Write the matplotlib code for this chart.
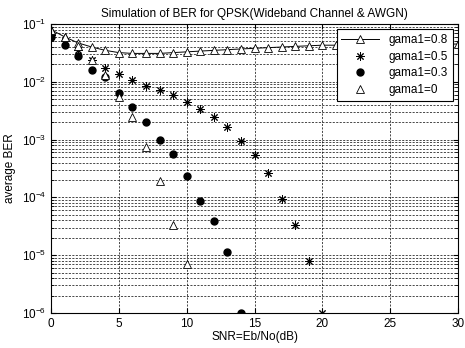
import numpy as np
import matplotlib.pyplot as plt
from matplotlib.ticker import LogLocator, NullFormatter

plt.rcParams['font.family'] = ['Liberation Sans', 'DejaVu Sans']

# SNR values (dB)
snr_08 = list(range(0, 31))
snr_05 = list(range(0, 21))
snr_03 = list(range(0, 15))
snr_00 = list(range(0, 11))

# average BER
ber_08 = [0.08, 0.06, 0.047, 0.04, 0.035, 0.032, 0.031, 0.031, 0.031, 0.032,
          0.033, 0.034, 0.035, 0.036, 0.037, 0.038, 0.039, 0.040, 0.041, 0.042,
          0.043, 0.043, 0.044, 0.044, 0.045, 0.045, 0.045, 0.045, 0.045, 0.045, 0.045]
ber_05 = [0.065, 0.05, 0.036, 0.024, 0.0175, 0.0136, 0.0108, 0.0085, 0.0072, 0.0058,
          0.0044, 0.0034, 0.0025, 0.00167, 0.00095, 0.00054, 0.00026, 9.3e-5, 3.3e-5,
          7.9e-6, 1e-6]
ber_03 = [0.06, 0.043, 0.028, 0.016, 0.012, 0.0064, 0.0036, 0.002, 0.001, 0.00056,
          0.000234, 8.5e-5, 3.9e-5, 1.14e-5, 1e-6]
ber_00 = [0.08, 0.06, 0.041, 0.024, 0.013, 0.0055, 0.0025, 0.00075, 1.9e-4, 3.3e-5, 7.1e-6]

labels = ['gama1=0.8', 'gama1=0.5', 'gama1=0.3', 'gama1=0']

fig = plt.figure(figsize=(4.65, 3.48), dpi=100)
ax = fig.add_axes([0.1097, 0.1006, 0.8753, 0.8304])

# matlab style asterisk
ast = (8, 2, 0)

ax.semilogy(snr_08, ber_08, '-^', color='k', mfc='white', mec='k', ms=5.5, mew=0.6, lw=0.7, label=labels[0])
ax.semilogy(snr_05, ber_05, ls='none', marker=ast, color='k', ms=6, mew=0.7, label=labels[1])
ax.semilogy(snr_03, ber_03, 'o', color='k', ms=5, label=labels[2])
ax.semilogy(snr_00, ber_00, '^', mfc='white', mec='k', ms=5.5, mew=0.6, label=labels[3])

ax.set_xlim(0, 30)
ax.set_ylim(1e-6, 1e-1)
ax.set_xticks([0, 5, 10, 15, 20, 25, 30])
ax.yaxis.set_minor_locator(LogLocator(base=10, subs=np.arange(2, 10)))
ax.yaxis.set_minor_formatter(NullFormatter())

ax.grid(True, which='major', color='k', linestyle=(0, (3, 2)), linewidth=0.5)
ax.grid(True, which='minor', axis='y', color='k', linestyle=(0, (3, 2)), linewidth=0.5)
ax.tick_params(which='both', direction='in', labelsize=8.5, top=True, right=True)
ax.tick_params(which='minor', length=2)
for s in ax.spines.values():
    s.set_linewidth(0.8)

ax.set_title('Simulation of BER for QPSK(Wideband Channel & AWGN)', fontsize=8.5, pad=5)
ax.set_xlabel('SNR=Eb/No(dB)', fontsize=8.5, labelpad=1)
ax.set_ylabel('average BER', fontsize=8.5)

leg = ax.legend(loc='upper right', fontsize=8.5, fancybox=False, framealpha=1,
                edgecolor='k', borderaxespad=0.45, handlelength=3.2,
                labelspacing=0.4, borderpad=0.4)
leg.get_frame().set_linewidth(0.8)

fig.savefig('out.png', dpi=100)
